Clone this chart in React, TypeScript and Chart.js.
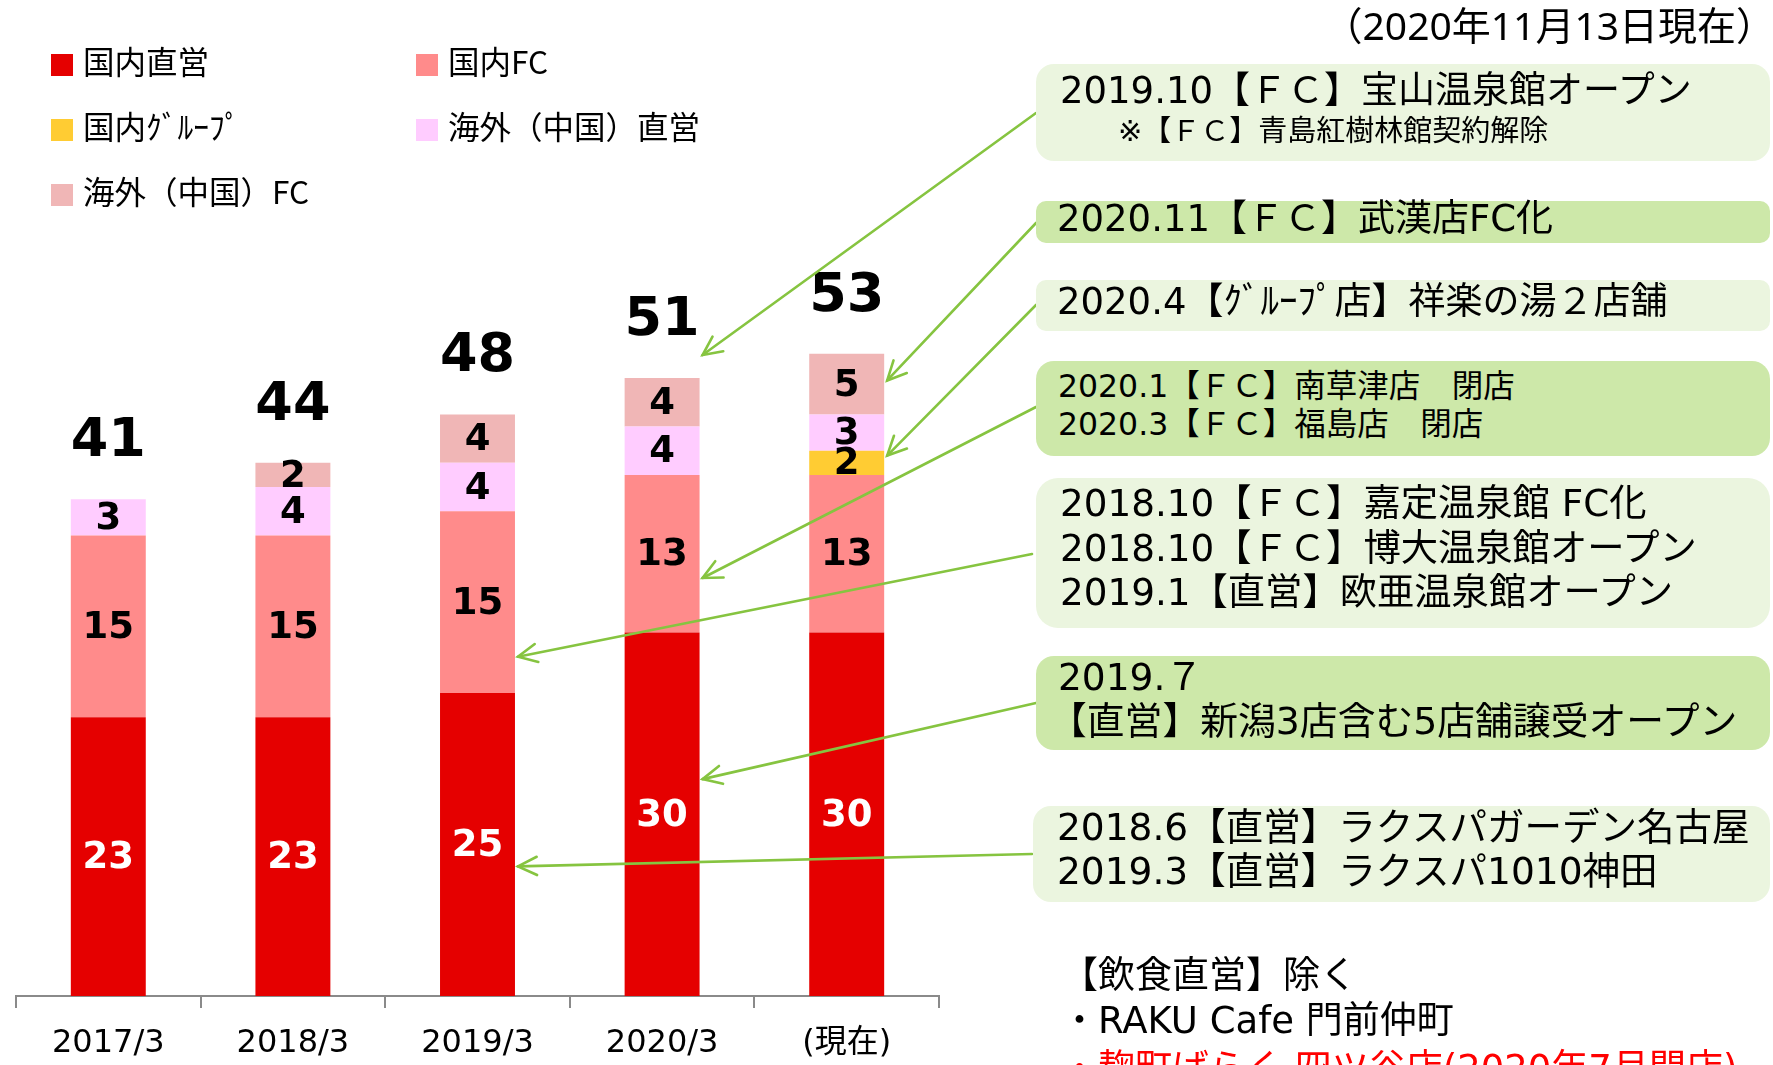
import React, { useEffect, useRef } from "react";
import { Chart, registerables } from "chart.js";

Chart.register(...registerables);

// ---------- data ----------
const categories = ["2017/3", "2018/3", "2019/3", "2020/3", "(現在)"];
const seriesNames = ["国内直営", "国内FC", "国内ｸﾞﾙｰﾌﾟ", "海外（中国）直営", "海外（中国）FC"];
const domesticDirect = [23, 23, 25, 30, 30];
const domesticFC = [15, 15, 15, 13, 13];
const domesticGroup = [0, 0, 0, 0, 2];
const overseasDirect = [3, 4, 4, 4, 3];
const overseasFC = [0, 2, 4, 4, 5];
const seriesValues = [domesticDirect, domesticFC, domesticGroup, overseasDirect, overseasFC];
const seriesColors = ["#E50000", "#FF8B8B", "#FFCC33", "#FFCCFF", "#F0B6B6"];
const yMax = 60;

// annotation arrows: source point (box edge) -> target (category index, value)
const arrowSources = [
  [1036, 113],
  [1036, 223],
  [1036, 305],
  [1036, 407],
  [1032, 554],
  [1036, 703],
  [1032, 854],
];
const arrowTargetCats = [3, 4, 4, 3, 2, 3, 2];
const arrowTargetValues = [52.9, 50.8, 44.6, 34.5, 28, 17.9, 10.7];

const LATIN = '"DejaVu Sans", "Noto Sans CJK JP", sans-serif';
const CJK = '"Noto Sans CJK JP", sans-serif';

type Line = { text: string; x: number; y: number; size: number; color?: string; font?: string };
type Box = { left: number; top: number; width: number; height: number; bg: string; radius: number; lines: Line[] };

const LIGHT = "#EBF5DF";
const DARK = "#CDE8A9";

const boxes: Box[] = [
  {
    left: 1036, top: 64, width: 734, height: 97, bg: LIGHT, radius: 18,
    lines: [
      { text: "2019.10【ＦＣ】宝山温泉館オープン", x: 1060, y: 91, size: 37 },
      { text: "※【ＦＣ】青島紅樹林館契約解除", x: 1118, y: 131, size: 29 },
    ],
  },
  {
    left: 1036, top: 201, width: 734, height: 42, bg: DARK, radius: 10,
    lines: [{ text: "2020.11【ＦＣ】武漢店FC化", x: 1057, y: 219, size: 37 }],
  },
  {
    left: 1036, top: 280, width: 734, height: 51, bg: LIGHT, radius: 10,
    lines: [{ text: "2020.4【ｸﾞﾙｰﾌﾟ店】祥楽の湯２店舗", x: 1057, y: 302, size: 37 }],
  },
  {
    left: 1036, top: 361, width: 734, height: 95, bg: DARK, radius: 18,
    lines: [
      { text: "2020.1【ＦＣ】南草津店　閉店", x: 1058, y: 386, size: 31.5 },
      { text: "2020.3【ＦＣ】福島店　閉店", x: 1058, y: 424, size: 31.5 },
    ],
  },
  {
    left: 1036, top: 478, width: 734, height: 150, bg: LIGHT, radius: 22,
    lines: [
      { text: "2018.10【ＦＣ】嘉定温泉館 FC化", x: 1060, y: 503, size: 37.3 },
      { text: "2018.10【ＦＣ】博大温泉館オープン", x: 1060, y: 548, size: 37.3 },
      { text: "2019.1【直営】欧亜温泉館オープン", x: 1060, y: 592, size: 37.3 },
    ],
  },
  {
    left: 1036, top: 656, width: 734, height: 94, bg: DARK, radius: 18,
    lines: [
      { text: "2019.７", x: 1058, y: 677, size: 37.5 },
      { text: "【直営】新潟3店含む5店舗譲受オープン", x: 1049, y: 721, size: 37.8 },
    ],
  },
  {
    left: 1033, top: 806, width: 737, height: 96, bg: LIGHT, radius: 18,
    lines: [
      { text: "2018.6【直営】ラクスパガーデン名古屋", x: 1057, y: 827, size: 37.5 },
      { text: "2019.3【直営】ラクスパ1010神田", x: 1057, y: 871, size: 37.5 },
    ],
  },
];

const freeTexts: Line[] = [
  { text: "【飲食直営】除く", x: 1061, y: 976, size: 37 },
  { text: "・RAKU Cafe 門前仲町", x: 1061, y: 1021, size: 37 },
  { text: "・麹町ばらく 四ツ谷店(2020年7月閉店)", x: 1061, y: 1069, size: 37, color: "#FF0000" },
];

const legendPos = [
  [51, 65],
  [416, 65],
  [51, 130],
  [416, 130],
  [51, 195],
];

function TextLine({ l }: { l: Line }) {
  const lh = Math.round(l.size * 1.2);
  return (
    <div
      style={{
        position: "absolute",
        left: l.x,
        top: l.y - lh / 2,
        height: lh,
        lineHeight: `${lh}px`,
        fontSize: l.size,
        fontFamily: l.font || LATIN,
        color: l.color || "#000",
        whiteSpace: "pre",
      }}
    >
      {l.text}
    </div>
  );
}

const labelPlugin = {
  id: "segLabels",
  afterDatasetsDraw(chart: any) {
    const ctx = chart.ctx;
    ctx.save();
    ctx.textAlign = "center";
    ctx.textBaseline = "middle";
    chart.data.datasets.forEach((ds: any, di: number) => {
      const meta = chart.getDatasetMeta(di);
      meta.data.forEach((el: any, i: number) => {
        const v = ds.data[i];
        if (!v) return;
        const p = el.getProps(["x", "y", "base"], true);
        ctx.fillStyle = di === 0 ? "#FFFFFF" : "#000000";
        ctx.font = `bold 37px ${LATIN}`;
        ctx.fillText(String(v), p.x, (p.y + p.base) / 2 + 2);
      });
    });
    const yScale = chart.scales.y;
    const meta0 = chart.getDatasetMeta(0);
    categories.forEach((_, i) => {
      const total = seriesValues.reduce((s, arr) => s + arr[i], 0);
      const el = meta0.data[i];
      ctx.fillStyle = "#000000";
      ctx.font = `bold 54px ${LATIN}`;
      ctx.fillText(String(total), el.x, yScale.getPixelForValue(total) - 57);
    });
    ctx.restore();
  },
};

const arrowPlugin = {
  id: "arrows",
  afterDraw(chart: any) {
    const ctx = chart.ctx;
    const meta0 = chart.getDatasetMeta(0);
    const yScale = chart.scales.y;
    ctx.save();
    ctx.strokeStyle = "#86C440";
    ctx.lineWidth = 2.6;
    ctx.lineCap = "round";
    arrowSources.forEach((src, k) => {
      const el = meta0.data[arrowTargetCats[k]];
      const tx = el.x + el.width / 2 + 3;
      const ty = yScale.getPixelForValue(arrowTargetValues[k]);
      const [sx, sy] = src;
      ctx.beginPath();
      ctx.moveTo(sx, sy);
      ctx.lineTo(tx, ty);
      ctx.stroke();
      const ang = Math.atan2(sy - ty, sx - tx);
      const len = 21;
      const spread = 0.45;
      ctx.beginPath();
      ctx.moveTo(tx + len * Math.cos(ang + spread), ty + len * Math.sin(ang + spread));
      ctx.lineTo(tx, ty);
      ctx.lineTo(tx + len * Math.cos(ang - spread), ty + len * Math.sin(ang - spread));
      ctx.stroke();
    });
    ctx.restore();
  },
};

export default function App() {
  const ref = useRef<HTMLCanvasElement | null>(null);

  useEffect(() => {
    document.body.style.margin = "0";
    if (!ref.current) return;
    const chart = new Chart(ref.current, {
      type: "bar",
      data: {
        labels: categories,
        datasets: seriesNames.map((name, i) => ({
          label: name,
          data: seriesValues[i],
          backgroundColor: seriesColors[i],
          borderWidth: 0,
          categoryPercentage: 1,
          barPercentage: 0.406,
        })),
      },
      options: {
        responsive: false,
        maintainAspectRatio: false,
        devicePixelRatio: 1,
        animation: false,
        layout: { padding: { left: 16, right: 834, top: 269, bottom: 0 } },
        plugins: { legend: { display: false }, tooltip: { enabled: false } },
        scales: {
          x: {
            stacked: true,
            offset: true,
            afterFit: (scale: any) => {
              scale.height = 69;
            },
            grid: {
              offset: true,
              drawOnChartArea: false,
              drawTicks: true,
              tickLength: 12,
              color: "#8A8A8A",
              lineWidth: 2,
            },
            border: { display: true, color: "#8A8A8A", width: 2 },
            ticks: {
              color: "#000",
              font: { family: LATIN, size: 32 },
              padding: 16,
              maxRotation: 0,
              autoSkip: false,
            },
          },
          y: {
            stacked: true,
            display: false,
            min: 0,
            max: yMax,
          },
        },
      },
      plugins: [labelPlugin, arrowPlugin],
    } as any);
    return () => chart.destroy();
  }, []);

  return (
    <div style={{ position: "absolute", left: 0, top: 0, width: 1773, height: 1065, overflow: "hidden", background: "#fff" }}>
      <canvas ref={ref} width={1773} height={1065} style={{ position: "absolute", left: 0, top: 0, display: "block" }} />
      {seriesNames.map((name, i) => (
        <React.Fragment key={name}>
          <div
            style={{
              position: "absolute",
              left: legendPos[i][0],
              top: legendPos[i][1] - 11,
              width: 22,
              height: 22,
              background: seriesColors[i],
            }}
          />
          <TextLine l={{ text: name, x: legendPos[i][0] + 32, y: legendPos[i][1] - 5, size: 31.5, font: CJK }} />
        </React.Fragment>
      ))}
      <div
        style={{
          position: "absolute",
          right: -2,
          top: 25 - 24,
          lineHeight: "48px",
          fontSize: 39,
          fontFamily: '"Noto Sans", "Noto Sans CJK JP", sans-serif',
          color: "#000",
          whiteSpace: "pre",
        }}
      >
        （2020年11月13日現在）
      </div>
      {boxes.map((b, i) => (
        <div
          key={i}
          style={{
            position: "absolute",
            left: b.left,
            top: b.top,
            width: b.width,
            height: b.height,
            background: b.bg,
            borderRadius: b.radius,
          }}
        />
      ))}
      {boxes.flatMap((b, i) => b.lines.map((l, j) => <TextLine key={`b${i}-${j}`} l={l} />))}
      {freeTexts.map((l, i) => (
        <TextLine key={`f${i}`} l={l} />
      ))}
    </div>
  );
}
